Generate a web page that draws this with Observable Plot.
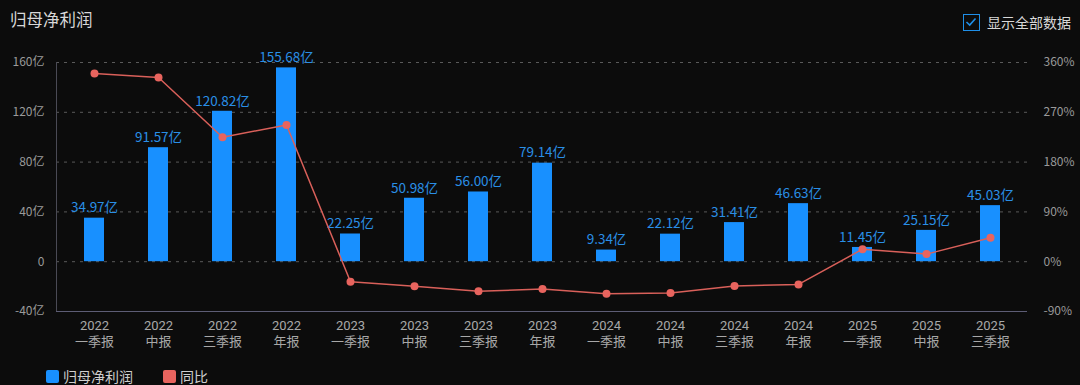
<!DOCTYPE html>
<html>
<head>
<meta charset="utf-8">
<script src="https://cdn.jsdelivr.net/npm/d3@7"></script>
<script src="https://cdn.jsdelivr.net/npm/@observablehq/plot@0.6"></script>
<style>
  html, body { margin: 0; padding: 0; background: #0c0c0c; }
  body { width: 1080px; height: 385px; position: relative; overflow: hidden;
         font-family: "Noto Sans CJK SC", "Noto Sans", sans-serif; }
  #title { position: absolute; left: 10px; top: 7px; font-size: 16.5px; color: #d8d8d8; }
  #toggle { position: absolute; left: 963px; top: 12px; display: flex; align-items: center; font-size: 14px; color: #d8d8d8; }
  #toggle .box { width: 17px; height: 17px; border: 1.5px solid #1f8fe8; box-sizing: border-box; margin-right: 7px; position: relative; }
  #chart { position: absolute; left: 0; top: 40px; }
  #legend { position: absolute; left: 46px; top: 366px; display: flex; align-items: center; font-size: 14px; color: #cfcfcf; }
  #legend .sw { width: 13px; height: 13px; border-radius: 2px; margin-right: 4px; }
  #legend .item { display: flex; align-items: center; margin-right: 30px; }
</style>
</head>
<body>
<div id="title">归母净利润</div>
<div id="toggle"><div class="box"><svg width="14" height="14" style="position:absolute;left:0;top:0"><path d="M2.5 7 L5.7 10 L11.5 3.5" fill="none" stroke="#1f8fe8" stroke-width="1.6"/></svg></div>显示全部数据</div>
<div id="chart"></div>
<div id="legend">
  <div class="item"><div class="sw" style="background:#1890ff"></div>归母净利润</div>
  <div class="item"><div class="sw" style="background:#e8645e"></div>同比</div>
</div>
<script>
const years = ["2022","2022","2022","2022","2023","2023","2023","2023","2024","2024","2024","2024","2025","2025","2025"];
const periods = ["一季报","中报","三季报","年报","一季报","中报","三季报","年报","一季报","中报","三季报","年报","一季报","中报","三季报"];
const profit = [34.97, 91.57, 120.82, 155.68, 22.25, 50.98, 56.00, 79.14, 9.34, 22.12, 31.41, 46.63, 11.45, 25.15, 45.03];
const yoy = [340, 333, 225, 247, -36.4, -44.3, -53.6, -49.2, -58.0, -56.6, -43.9, -41.1, 22.6, 13.7, 43.4];
const leftTicks = [-40, 0, 40, 80, 120, 160];
const rightTicks = [-90, 0, 90, 180, 270, 360];

const ratio = 40 / 90; // percent -> left axis units
const cats = years.map((y, i) => y + "|" + periods[i]);
const rows = cats.map((c, i) => ({cat: c, profit: profit[i], yoy: yoy[i], yoyScaled: yoy[i] * ratio}));

const chart = Plot.plot({
  width: 1080,
  height: 315,
  marginTop: 22,
  marginBottom: 44,
  marginLeft: 56,
  marginRight: 53,
  style: {background: "transparent", fontFamily: "'Noto Sans CJK SC', sans-serif", fontSize: "12px", color: "#9a9a9a"},
  x: {type: "band", domain: cats, paddingInner: 0.69, paddingOuter: 0.345, label: null},
  y: {domain: [-40, 160], label: null},
  marks: [
    Plot.gridY(leftTicks, {stroke: "#5a5a5a", strokeOpacity: 1, strokeDasharray: "3,5"}),
    Plot.frame({anchor: "left", stroke: "#4a4a55"}),
    Plot.barY(rows, {x: "cat", y: "profit", fill: "#1890ff"}),
    Plot.text(rows, {x: "cat", y: "profit", text: d => d.profit.toFixed(2) + "亿", dy: -10, fill: "#2a8fe6", fontSize: 13.5}),
    Plot.ruleY([-40], {stroke: "#5d5d75", strokeWidth: 1.2}),
    Plot.line(rows, {x: "cat", y: "yoyScaled", stroke: "#d9605a", strokeWidth: 1.5}),
    Plot.dot(rows, {x: "cat", y: "yoyScaled", r: 4, fill: "#e8645e", stroke: "none"}),
    Plot.axisY({anchor: "left", ticks: leftTicks, tickSize: 0, tickPadding: 12, fill: "#9a9a9a", fontSize: 12,
      tickFormat: d => d === 0 ? "0" : d + "亿", label: null}),
    Plot.axisY({anchor: "right", ticks: rightTicks.map(v => v * ratio), tickSize: 0, tickPadding: 16, fill: "#9a9a9a", fontSize: 12,
      tickFormat: d => Math.round(d / ratio) + "%", label: null}),
    Plot.axisX({tickSize: 0, tickPadding: 9, fill: "#a8a8a8", fontSize: 13, fontFamily: "Roboto, 'Liberation Sans', sans-serif",
      tickFormat: d => d.split("|")[0], label: null}),
    Plot.axisX({tickSize: 0, tickPadding: 25, fill: "#a8a8a8", fontSize: 13,
      tickFormat: d => d.split("|")[1], label: null})
  ]
});
document.getElementById("chart").appendChild(chart);
</script>
</body>
</html>
